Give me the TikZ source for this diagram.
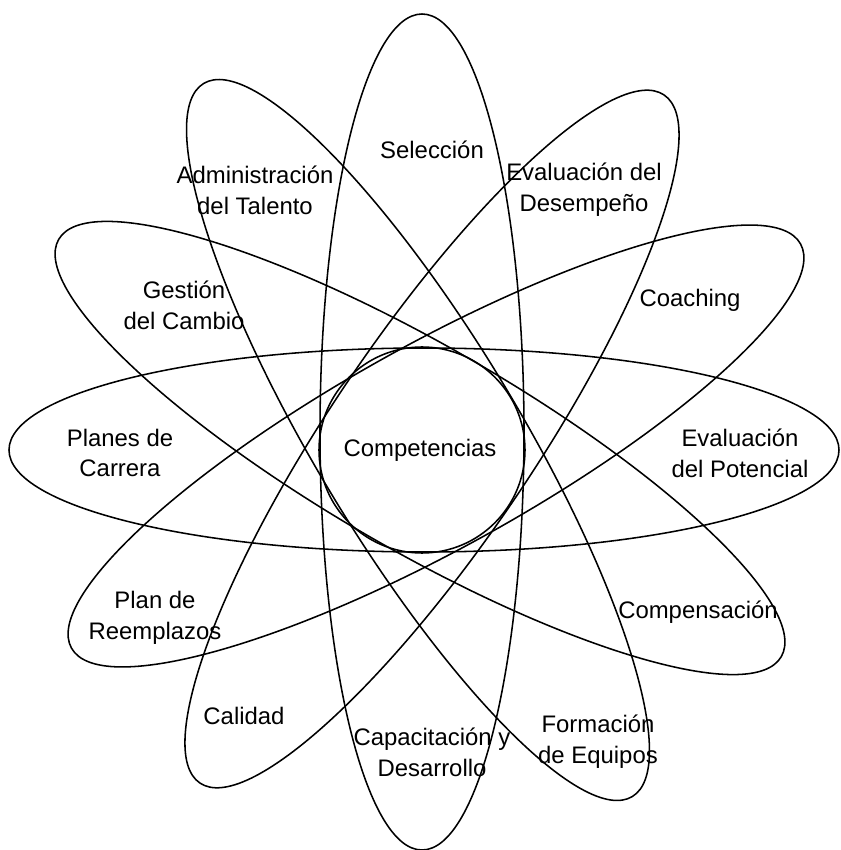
\documentclass[tikz,border=0pt]{standalone}
\usepackage{fontspec}
\setmainfont{Liberation Sans}
\begin{document}
\begin{tikzpicture}[scale=1.0,
    orbit/.style={line width=1.1pt},
    lbl/.style={align=center, inner sep=0pt, font=\fontsize{17}{21.8}\selectfont}]
    \useasboundingbox (-10.5,-10) rectangle (10.5,11.25);

    % six petals round the centre
    \draw[orbit] (0.1,0) ellipse[x radius=10.375, y radius=2.55];
    \draw[orbit] (0.05,0.45) ellipse[x radius=2.55, y radius=10.45];
    \draw[orbit, shift={(0.4,0.1)}, rotate=29] (0,0) ellipse[x radius=10.42, y radius=2.55];
    \draw[orbit, shift={(0.3,0.275)}, rotate=56] (0,0) ellipse[x radius=10.375, y radius=2.55];
    \draw[orbit, shift={(0,0.05)}, rotate=150] (0,0) ellipse[x radius=10.43, y radius=2.55];
    \draw[orbit, shift={(-0.05,0.25)}, rotate=121] (0,0) ellipse[x radius=10.4, y radius=2.55];

    \draw[orbit] (0.05,0) circle (2.575);

    \node[lbl] (comp) at (0,0) {Competencias};
    \node[lbl] (sel) at (0.3,7.5) {Selección};
    \node[lbl] (adm) at (-4.125,6.5) {Administración\\del Talento};
    \node[lbl] (evd) at (4.1,6.5) {Evaluación del\\Desempeño};
    \node[lbl] (ges) at (-5.9,3.625) {Gestión\\del Cambio};
    \node[lbl] (coa) at (6.75,3.75) {Coaching};
    \node[lbl] (pla) at (-7.5,-0.075) {Planes de\\Carrera};
    \node[lbl] (evp) at (8.0,-0.075) {Evaluación\\del Potencial};
    \node[lbl] (ree) at (-6.625,-4.2) {Plan de\\Reemplazos};
    \node[lbl] (cmp) at (6.95,-4.05) {Compensación};
    \node[lbl] (cal) at (-4.4,-6.65) {Calidad};
    \node[lbl] (cap) at (0.3,-7.55) {Capacitación y\\Desarrollo};
    \node[lbl] (for) at (4.45,-7.3) {Formación\\de Equipos};
\end{tikzpicture}
\end{document}
